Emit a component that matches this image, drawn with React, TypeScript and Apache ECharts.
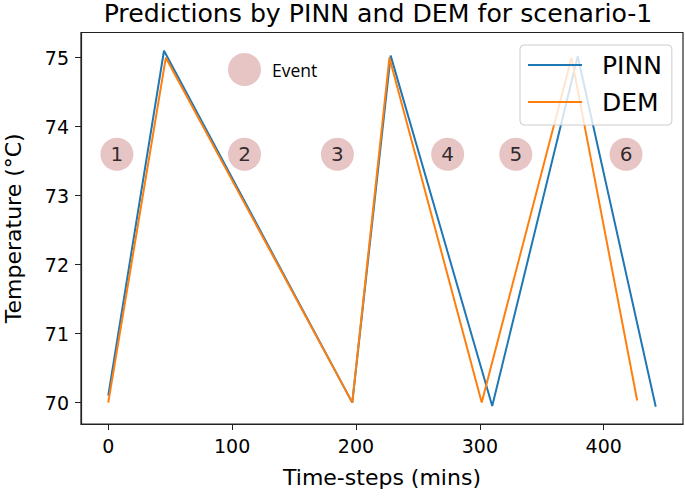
import React, { useEffect, useRef } from "react";
import * as echarts from "echarts";

const pinnX = [0, 45, 197, 228, 310, 379, 442];
const pinnY = [70.1, 75.1, 70.0, 75.03, 69.95, 75.02, 69.94];
const demX = [0, 46.5, 197, 227, 301.5, 374, 427];
const demY = [70.0, 75.0, 70.0, 75.0, 70.0, 75.0, 70.03];
const eventX = [7, 110, 185, 274, 329, 418];
const eventY = [73.6, 73.6, 73.6, 73.6, 73.6, 73.6];
const eventLabels = ["1", "2", "3", "4", "5", "6"];
const xTicks = [0, 100, 200, 300, 400];
const yTicks = [70, 71, 72, 73, 74, 75];

const FONT = "DejaVu Sans";

export default function App() {
  const ref = useRef<HTMLDivElement>(null);
  useEffect(() => {
    if (!ref.current) return;
    const chart = echarts.init(ref.current, null, { renderer: "svg" });
    const pinn = pinnX.map((x, i) => [x, pinnY[i]]);
    const dem = demX.map((x, i) => [x, demY[i]]);
    const ev = eventX.map((x, i) => ({ value: [x, eventY[i]], name: eventLabels[i] }));
    chart.setOption({
      animation: false,
      backgroundColor: "#ffffff",
      title: {
        text: "Predictions by PINN and DEM for scenario-1",
        left: 378,
        textAlign: "center",
        top: 1,
        padding: 0,
        textStyle: { fontFamily: FONT, fontSize: 25.2, fontWeight: "normal", color: "#000" },
      },
      grid: {
        left: 81,
        right: 2,
        top: 32.5,
        bottom: 73,
        show: true,
        borderColor: "#222",
        borderWidth: 1.2,
        containLabel: false,
        outerBoundsMode: "none",
      },
      legend: [
        {
          data: ["PINN", "DEM"],
          orient: "vertical",
          left: 520,
          top: 45,
          padding: [5, 10, 8, 8],
          itemGap: 7,
          icon: "rect",
          itemWidth: 54,
          itemHeight: 2,
          backgroundColor: "rgba(255,255,255,0.8)",
          borderColor: "#cccccc",
          borderWidth: 1,
          borderRadius: 4,
          textStyle: {
            fontFamily: FONT,
            fontSize: 25,
            color: "#000",
            lineHeight: 30,
            padding: [0, 0, 0, 15],
          },
        },
        {
          data: ["Event"],
          left: 223,
          top: 48,
          icon: "circle",
          itemWidth: 33,
          itemHeight: 33,
          textStyle: {
            fontFamily: "Open Sans",
            fontSize: 17.5,
            color: "#000",
            padding: [0, 0, 0, 6],
          },
        },
      ],
      xAxis: {
        type: "value",
        min: -22,
        max: 464,
        name: "Time-steps (mins)",
        nameLocation: "middle",
        nameGap: 42,
        nameTextStyle: { fontFamily: FONT, fontSize: 22, color: "#000" },
        axisLine: { show: true, onZero: false, lineStyle: { color: "#222", width: 1.2 } },
        axisTick: { show: true, inside: false, length: 6, customValues: xTicks, lineStyle: { color: "#222" } },
        axisLabel: { customValues: xTicks, margin: 12, fontFamily: FONT, fontSize: 19, color: "#000" },
        splitLine: { show: false },
      },
      yAxis: {
        type: "value",
        min: 69.69,
        max: 75.365,
        name: "Temperature (°C)",
        nameLocation: "middle",
        nameGap: 57,
        nameRotate: 90,
        nameTextStyle: { fontFamily: FONT, fontSize: 22, color: "#000" },
        axisLine: { show: true, onZero: false, lineStyle: { color: "#222", width: 1.2 } },
        axisTick: { show: true, inside: false, length: 6, customValues: yTicks, lineStyle: { color: "#222" } },
        axisLabel: { customValues: yTicks, margin: 12, fontFamily: FONT, fontSize: 19, color: "#000" },
        splitLine: { show: false },
      },
      series: [
        {
          name: "Event",
          type: "scatter",
          data: ev,
          symbol: "circle",
          symbolSize: 33,
          itemStyle: { color: "#e2b6b6" },
          label: {
            show: true,
            position: "inside",
            formatter: (p: any) => p.name,
            fontFamily: FONT,
            fontSize: 20,
            color: "#000",
          },
          z: 1,
        },
        {
          name: "PINN",
          type: "line",
          data: pinn,
          showSymbol: false,
          symbol: "none",
          lineStyle: { color: "#1f77b4", width: 2 },
          itemStyle: { color: "#1f77b4" },
          z: 2,
        },
        {
          name: "DEM",
          type: "line",
          data: dem,
          showSymbol: false,
          symbol: "none",
          lineStyle: { color: "#ff7f0e", width: 2 },
          itemStyle: { color: "#ff7f0e" },
          z: 3,
        },
      ],
    });
    return () => chart.dispose();
  }, []);
  return (
    <div
      ref={ref}
      style={{ position: "absolute", left: 0, top: 0, width: 685, height: 497 }}
    />
  );
}
